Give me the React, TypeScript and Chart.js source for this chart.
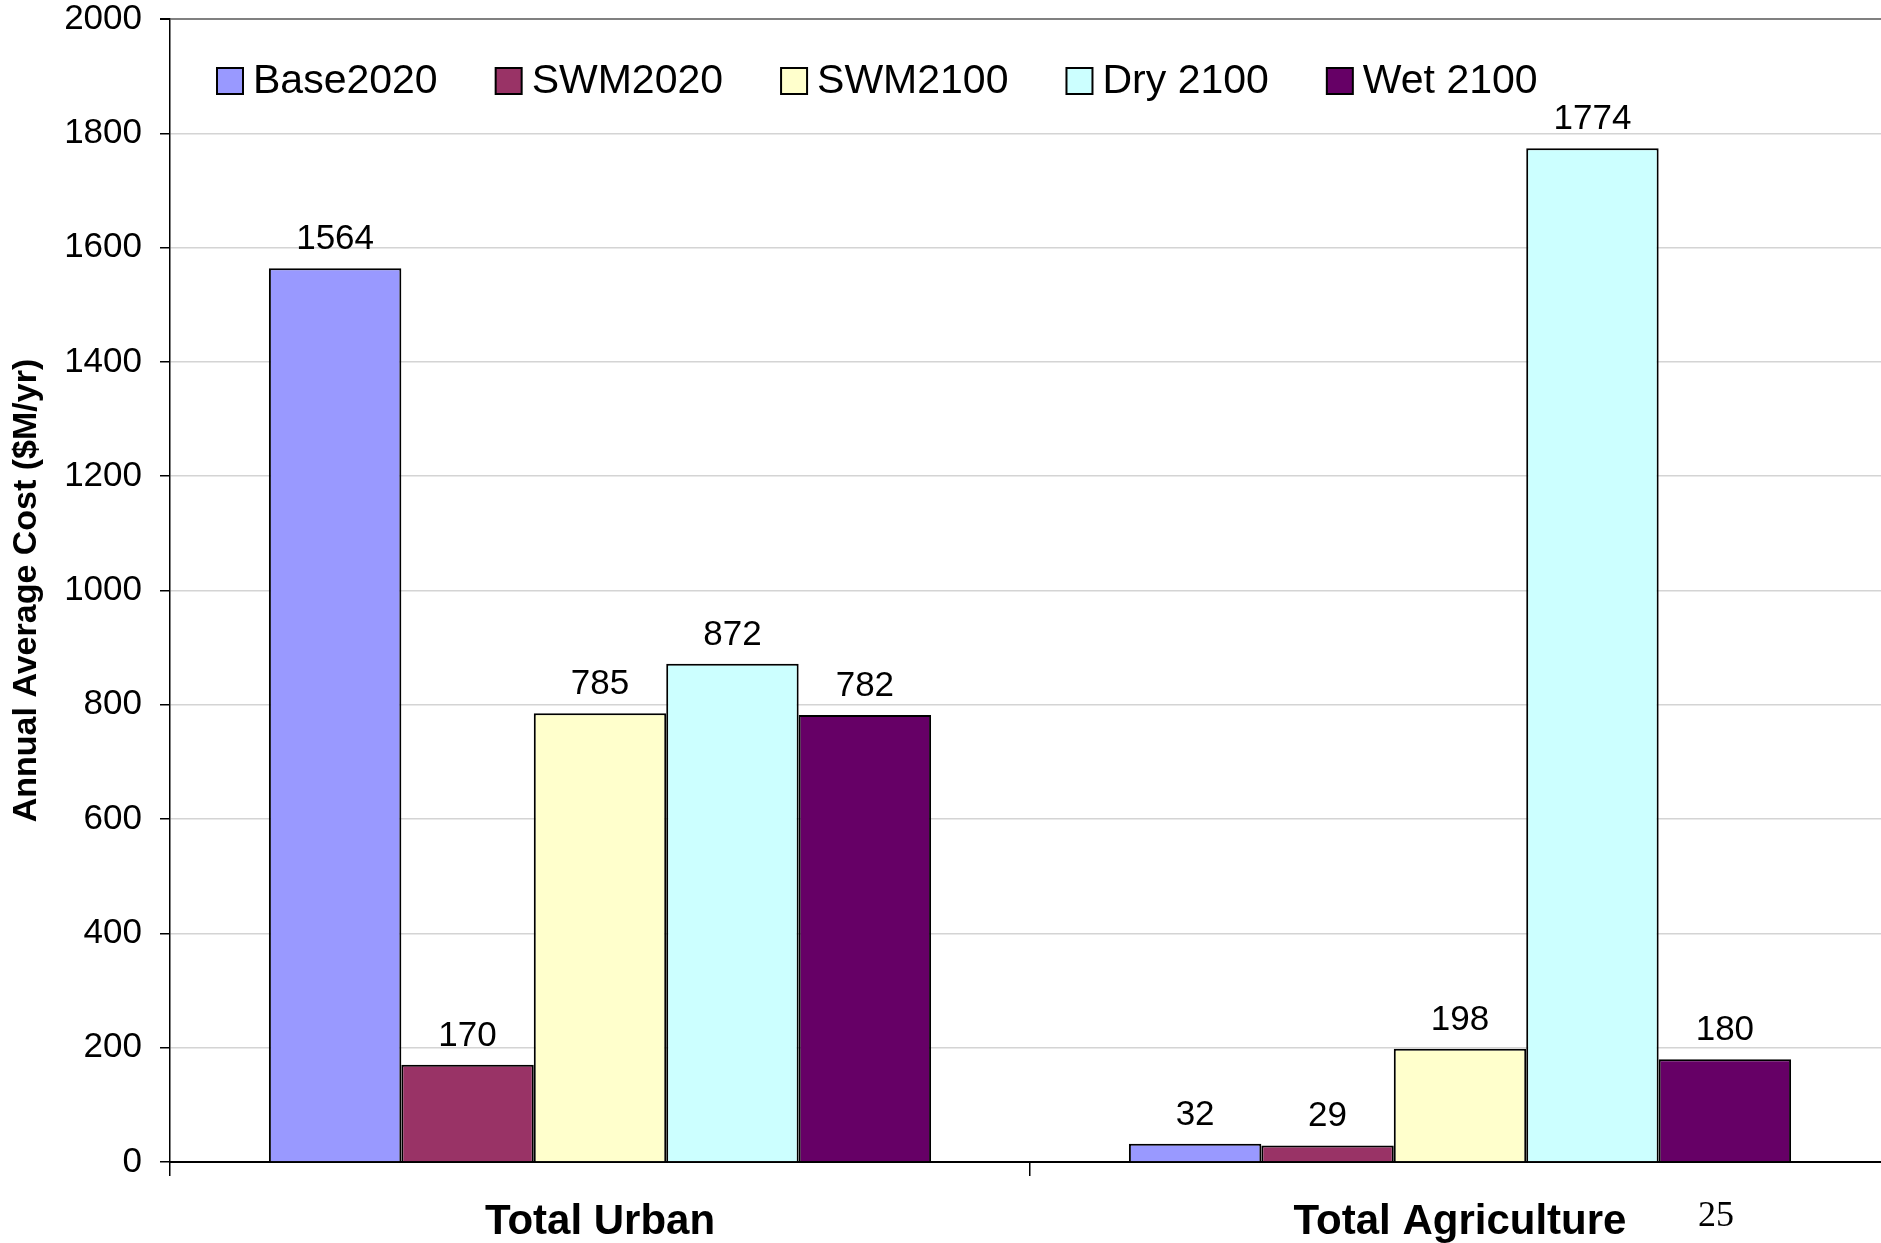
import React, { useEffect, useRef } from "react";
import { Chart, registerables } from "chart.js";

Chart.register(...registerables);

const categories = ["Total Urban", "Total Agriculture"];
const seriesNames = ["Base2020", "SWM2020", "SWM2100", "Dry 2100", "Wet 2100"];
const base2020 = [1564, 32];
const swm2020 = [170, 29];
const swm2100 = [785, 198];
const dry2100 = [872, 1774];
const wet2100 = [782, 180];
const seriesColors = ["#9999FF", "#993366", "#FFFFCC", "#CCFFFF", "#660066"];
const yTicks = [0, 200, 400, 600, 800, 1000, 1200, 1400, 1600, 1800, 2000];
const yTitle = "Annual Average Cost ($M/yr)";
const pageNumber = "25";

const FONT = '"Liberation Sans", Arial, Helvetica, sans-serif';
const W = 1900;
const H = 1243;

export default function App() {
  const ref = useRef<HTMLCanvasElement | null>(null);

  useEffect(() => {
    document.body.style.margin = "0";
    document.body.style.overflow = "hidden";
    const canvas = ref.current;
    if (!canvas) return;
    const values = [base2020, swm2020, swm2100, dry2100, wet2100];

    const valueLabels = {
      id: "valueLabels",
      afterDatasetsDraw(chart: any) {
        const ctx = chart.ctx;
        ctx.save();
        ctx.font = `35px ${FONT}`;
        ctx.fillStyle = "#000";
        ctx.textAlign = "center";
        ctx.textBaseline = "alphabetic";
        chart.data.datasets.forEach((ds: any, i: number) => {
          const meta = chart.getDatasetMeta(i);
          meta.data.forEach((bar: any, j: number) => {
            ctx.fillText(String(ds.data[j]), bar.x, bar.y - 19);
          });
        });
        ctx.restore();
      },
    };

    const innerLegend = {
      id: "innerLegend",
      afterDraw(chart: any) {
        const ctx = chart.ctx;
        const area = chart.chartArea;
        ctx.save();
        ctx.font = `41px ${FONT}`;
        ctx.textAlign = "left";
        ctx.textBaseline = "middle";
        let x = area.left + 47;
        const cy = 81;
        const box = 26;
        chart.data.datasets.forEach((ds: any) => {
          ctx.fillStyle = ds.backgroundColor;
          ctx.fillRect(x, cy - box / 2, box, box);
          ctx.strokeStyle = "#000";
          ctx.lineWidth = 2;
          ctx.strokeRect(x, cy - box / 2, box, box);
          x += box + 10;
          ctx.fillStyle = "#000";
          ctx.fillText(ds.label, x, cy + 1);
          x += ctx.measureText(ds.label).width + 58;
        });
        ctx.restore();
      },
    };

    const pageNum = {
      id: "pageNum",
      afterDraw(chart: any) {
        const ctx = chart.ctx;
        ctx.save();
        ctx.font = `36px "Liberation Serif", "Times New Roman", serif`;
        ctx.fillStyle = "#000";
        ctx.textAlign = "left";
        ctx.textBaseline = "alphabetic";
        ctx.fillText(pageNumber, 1698, 1226);
        ctx.restore();
      },
    };

    const chart = new Chart(canvas, {
      type: "bar",
      data: {
        labels: categories,
        datasets: seriesNames.map((name, i) => ({
          label: name,
          data: values[i],
          backgroundColor: seriesColors[i],
          borderColor: "#000",
          borderWidth: 2,
          categoryPercentage: 0.77,
          barPercentage: 1,
        })),
      },
      options: {
        responsive: false,
        animation: false,
        layout: { padding: { left: 0, top: 19, right: 10, bottom: 0 } },
        plugins: {
          legend: { display: false },
          tooltip: { enabled: false },
        },
        scales: {
          x: {
            grid: {
              offset: true,
              drawOnChartArea: false,
              drawTicks: true,
              tickLength: 14,
              color: "#000",
              lineWidth: 1.5,
            },
            border: { color: "#000", width: 2 },
            ticks: {
              font: { family: FONT, size: 42, weight: "bold" },
              color: "#000",
              padding: 21,
              maxRotation: 0,
              autoSkip: false,
            },
            afterFit(scale: any) {
              scale.height = H - 1162;
              scale.paddingLeft = 0;
              scale.paddingRight = 0;
            },
          },
          y: {
            min: 0,
            max: 2000,
            afterBuildTicks(scale: any) {
              scale.ticks = yTicks.map((v) => ({ value: v }));
            },
            grid: {
              color: (ctx: any) => (ctx.tick && ctx.tick.value === 2000 ? "#808080" : "#d4d4d4"),
              lineWidth: (ctx: any) => (ctx.tick && ctx.tick.value === 2000 ? 2 : 1.5),
              tickColor: "#000",
              tickLength: 10,
              drawTicks: true,
            },
            border: { color: "#000", width: 1.5 },
            ticks: {
              font: { family: FONT, size: 35 },
              color: "#000",
              padding: 18,
              callback: (v: any) => String(v),
            },
            title: {
              display: true,
              text: yTitle,
              font: { family: FONT, size: 34, weight: "bold" },
              color: "#000",
              padding: { top: 6, bottom: 0 },
            },
            afterFit(scale: any) {
              scale.width = 170;
              scale.paddingTop = 0;
              scale.paddingBottom = 0;
            },
          },
        },
      },
      plugins: [valueLabels, innerLegend, pageNum],
    } as any);

    return () => chart.destroy();
  }, []);

  return (
    <div style={{ position: "absolute", left: 0, top: 0, width: W, height: H, background: "#fff" }}>
      <canvas ref={ref} width={W} height={H} style={{ display: "block", width: W, height: H }} />
    </div>
  );
}
